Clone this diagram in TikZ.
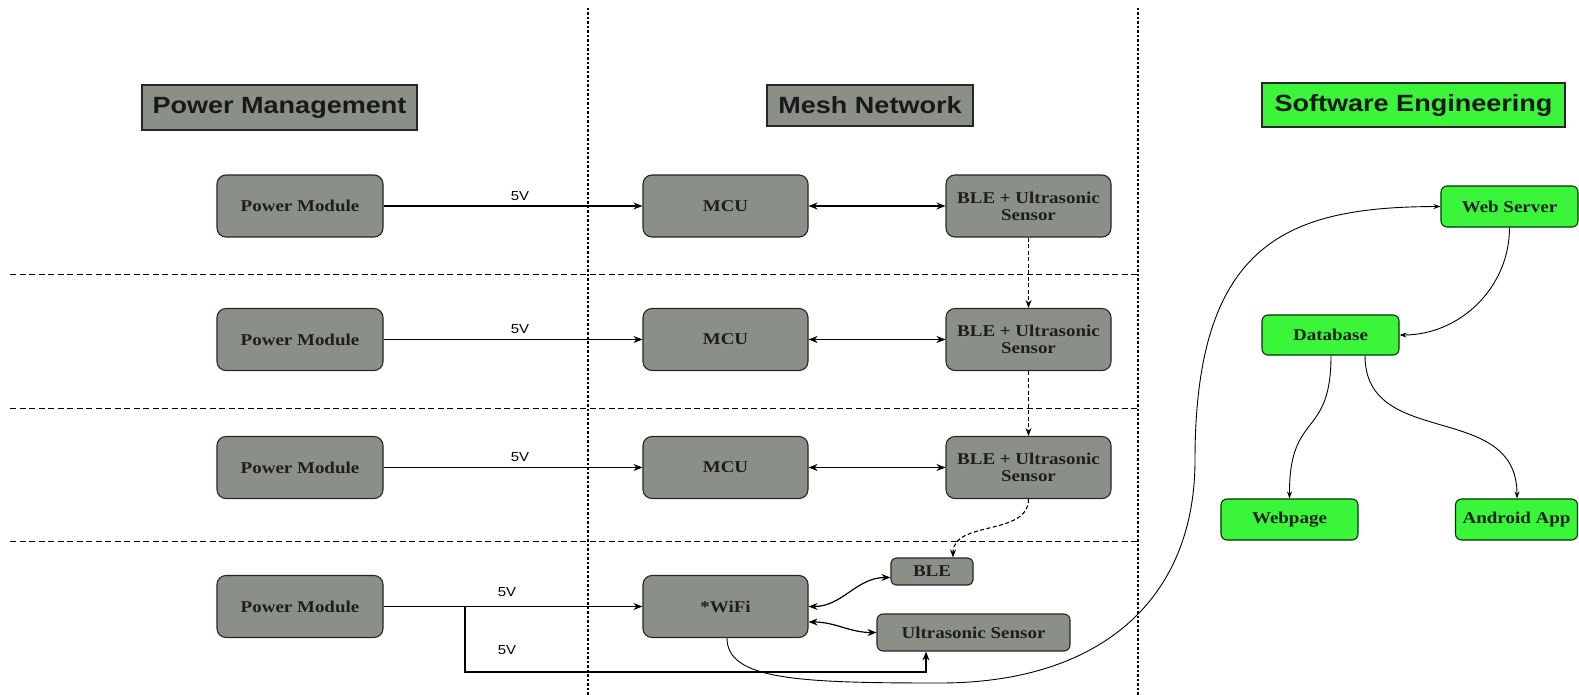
\documentclass[tikz,border=0pt]{standalone}
\usepackage{fontspec}
\setmainfont{Liberation Serif}[FakeStretch=1.15]
\newfontfamily\hdrfont{Liberation Sans}[FakeStretch=1.15]
\usetikzlibrary{arrows.meta}
\definecolor{nodegray}{RGB}{138,144,136}
\definecolor{swgreen}{RGB}{58,245,58}
\definecolor{txtdark}{RGB}{30,30,30}
\tikzset{
  gnode/.style={draw=black!85, fill=nodegray, rounded corners=9pt, line width=1.1pt, inner sep=0pt, align=center, text=txtdark, font=\fontsize{16.5}{17}\selectfont\bfseries},
  grnode/.style={gnode, fill=swgreen, draw=black!80!green, rounded corners=6pt},
  hdr/.style={draw=black!85, line width=1.2pt, inner sep=0pt, font=\hdrfont\bfseries\fontsize{23.5}{26}\selectfont, text=black!90},
  arr/.style={line width=1.2pt, -{Stealth[length=9pt,width=7pt]}},
  darr/.style={line width=1.2pt, {Stealth[length=9pt,width=7pt]}-{Stealth[length=9pt,width=7pt]}},
  sarr/.style={line width=0.9pt, -{Stealth[length=7pt,width=5pt]}},
  dasharr/.style={line width=1.1pt, dash pattern=on 4pt off 2.5pt, -{Stealth[length=8pt,width=6pt]}},
  vsep/.style={line width=1.1pt, dash pattern=on 2.5pt off 2pt},
  hsep/.style={line width=1pt, dash pattern=on 6pt off 3.5pt},
  volt/.style={font=\hdrfont\fontsize{13}{15}\selectfont, inner sep=0pt}
}
\begin{document}
\begin{tikzpicture}[x=1pt,y=-1pt]
\useasboundingbox (0,0) rectangle (1579,695);
% separators
\draw[vsep] (588,8) -- (588,695);
\draw[vsep] (1138,8) -- (1138,695);
\draw[hsep] (10,274) -- (1138,274);
\draw[hsep] (10,408) -- (1138,408);
\draw[hsep] (10,541) -- (1138,541);
% headers
\node[hdr, fill=nodegray, minimum width=275pt, minimum height=45pt] (hpm) at (279.5,107.5) {Power Management};
\node[hdr, fill=nodegray, minimum width=206pt, minimum height=41pt] (hmn) at (870,105.5) {Mesh Network};
\node[hdr, fill=swgreen, minimum width=303pt, minimum height=44pt] (hse) at (1413.5,105) {Software Engineering};
% rows
\foreach \i/\y in {1/206, 2/339.5, 3/467.5}{
  \node[gnode, minimum width=166pt, minimum height=62pt] (pm\i) at (300,\y) {Power Module};
  \node[gnode, minimum width=165pt, minimum height=62pt] (mcu\i) at (725.5,\y) {MCU};
  \node[gnode, minimum width=165pt, minimum height=62pt] (bu\i) at (1028.5,\y) {BLE + Ultrasonic\\Sensor};
  \draw[arr] (pm\i) -- (mcu\i);
  \node[volt] (v\i) at (520,\y-10) {5V};
  \draw[darr] (mcu\i) -- (bu\i);
}
\draw[dasharr] (bu1) -- (bu2);
\draw[dasharr] (bu2) -- (bu3);
% row 4
\node[gnode, minimum width=166pt, minimum height=62pt] (pm4) at (300,606.5) {Power Module};
\node[gnode, minimum width=165pt, minimum height=62pt] (wifi) at (725.5,606.5) {*WiFi};
\node[gnode, rounded corners=5pt, minimum width=82pt, minimum height=27pt] (ble) at (932,571.5) {BLE};
\node[gnode, rounded corners=6pt, minimum width=193pt, minimum height=37pt] (us) at (973.5,632.5) {Ultrasonic Sensor};
\draw[arr] (pm4) -- (wifi);
\coordinate (br) at (465,606.5);
\draw[arr] (br) -- (465,672) -| ([xshift=-47.5pt]us.south);
\node[volt] (v4a) at (507,592) {5V};
\node[volt] (v4b) at (507,650) {5V};
\draw[dasharr] (bu3.south) to[out=-90,in=90] ([xshift=21pt]ble.north);
\draw[darr] (wifi.east) to[out=0,in=180] ([yshift=-6pt]ble.west);
\draw[darr] ([yshift=-15.5pt]wifi.east) to[out=0,in=180] (us.west);
% software
\node[grnode, minimum width=137pt, minimum height=41pt] (ws) at (1509.5,206.5) {Web Server};
\node[grnode, minimum width=137pt, minimum height=40pt] (db) at (1330.5,335) {Database};
\node[grnode, minimum width=137pt, minimum height=41pt] (wp) at (1289.5,519.5) {Webpage};
\node[grnode, minimum width=122pt, minimum height=41pt] (aa) at (1516.5,519.5) {Android App};
\draw[sarr] (ws.south) to[out=-90,in=0] (db.east);
\draw[sarr] ([xshift=0.5pt]db.south) .. controls (1331,440) and (1289,410) .. (wp.north);
\draw[sarr] ([xshift=34.5pt]db.south) .. controls (1365,450) and (1517,400) .. ([xshift=0.5pt]aa.north);
% long curve
\coordinate (c1) at (940,683);
\coordinate (c2) at (1195,460);
\draw[sarr] ([xshift=1.5pt]wifi.south) .. controls (727,680) and (800,683) .. (c1)
  .. controls (1100,683) and (1195,600) .. (c2)
  .. controls (1195,240) and (1290,207) .. (ws.west);
\end{tikzpicture}
\end{document}
